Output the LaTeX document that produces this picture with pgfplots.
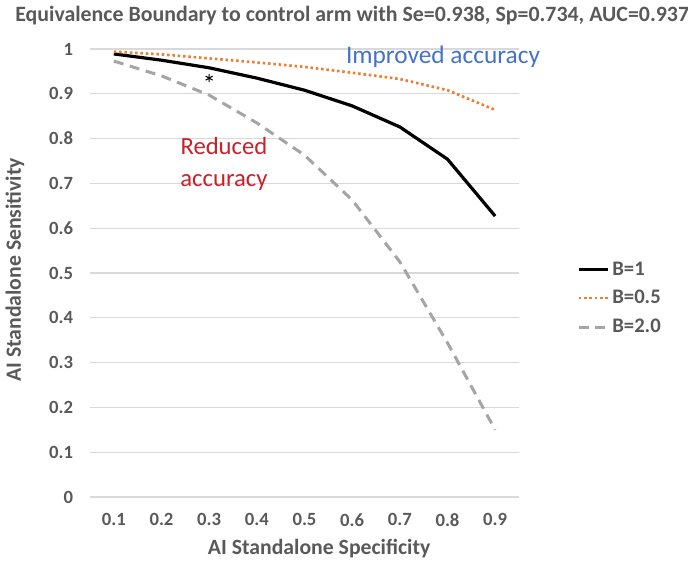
\documentclass[border=0pt]{standalone}
\usepackage{pgfplots}
\pgfplotsset{compat=1.18}
\usepackage{fontspec}
\setmainfont{Carlito}

\definecolor{txtgray}{HTML}{595959}
\definecolor{gridgray}{HTML}{D9D9D9}
\definecolor{xlorange}{HTML}{ED7D31}
\definecolor{xlgray}{HTML}{A5A5A5}
\definecolor{impblue}{HTML}{4472C4}
\definecolor{redtxt}{HTML}{C9202A}

\begin{document}
\begin{tikzpicture}
    % picture frame, 688x560 px at 0.75pt per px, origin at plot corner
    \path[use as bounding box] (-67.5pt,-47.25pt) rectangle (448.5pt,372.75pt);

    \begin{axis}[
            width=321.75pt,
            height=336pt,
            scale only axis,
            xmin=0.05, xmax=0.95,
            ymin=0, ymax=1,
            xtick={0.1,0.2,...,0.9},
            xticklabels={0.1,0.2,0.3,0.4,0.5,0.6,0.7,0.8,0.9},
            ytick={0,0.1,...,1},
            yticklabels={0,0.1,0.2,0.3,0.4,0.5,0.6,0.7,0.8,0.9,1},
            major tick length=0pt,
            axis line style={draw=none},
            ymajorgrids,
            grid style={gridgray, line width=0.9pt},
            tick label style={font=\fontsize{14}{16}\selectfont\bfseries, text=txtgray},
            /pgf/number format/assume math mode=true,
            yticklabel style={inner sep=0pt, xshift=-12.5pt},
            xticklabel style={inner sep=0pt, yshift=-12pt},
            clip=false,
            legend style={
                at={(rel axis cs:1.135,0.532)},
                anchor=north west,
                draw=none, fill=none,
                font=\fontsize{15.5}{18}\selectfont\bfseries,
                text=txtgray,
                row sep=6pt,
                inner sep=0pt
            },
            legend cell align=left,
            legend image code/.code={
                \draw[#1] (0pt,0pt) -- (22pt,0pt);
            }
        ]

        % B=1
        \addplot[black, line width=2.4pt, line join=round] coordinates {
            (0.1,0.989) (0.2,0.975) (0.3,0.958) (0.4,0.935) (0.5,0.908)
            (0.6,0.873) (0.7,0.826) (0.8,0.754) (0.9,0.627)
        };
        \addlegendentry{B=1}

        % B=0.5
        \addplot[xlorange, line width=2pt, dash pattern=on 1.9pt off 2.1pt] coordinates {
            (0.1,0.994) (0.2,0.988) (0.3,0.979) (0.4,0.970) (0.5,0.960)
            (0.6,0.947) (0.7,0.933) (0.8,0.908) (0.9,0.864)
        };
        \addlegendentry{B=0.5}

        % B=2.0
        \addplot[xlgray, line width=2.25pt, dash pattern=on 7.5pt off 5pt] coordinates {
            (0.1,0.973) (0.2,0.940) (0.3,0.897) (0.4,0.835) (0.5,0.763)
            (0.6,0.663) (0.7,0.525) (0.8,0.344) (0.9,0.150)
        };
        \addlegendentry{B=2.0}

        % control arm marker
        \addplot[only marks, mark=asterisk, mark size=3pt, black, line width=0.8pt,
            forget plot] coordinates {(0.3,0.935)};

        \node[text=impblue, font=\fontsize{19}{22}\selectfont]
            at (axis cs:0.7906,0.982) {Improved accuracy};
        \node[text=redtxt, font=\fontsize{18.5}{24}\selectfont, align=center]
            at (axis cs:0.331,0.743) {Reduced\\accuracy};

        \node[text=txtgray, font=\fontsize{16.4}{18}\selectfont\bfseries]
            at (rel axis cs:0.611,1.0737) {Equivalence Boundary to control arm with Se=0.938, Sp=0.734, AUC=0.937};
        \node[text=txtgray, font=\fontsize{16.3}{18}\selectfont\bfseries]
            at (rel axis cs:0.534,-0.116) {AI Standalone Specificity};
        \node[text=txtgray, font=\fontsize{16.3}{18}\selectfont\bfseries, rotate=90]
            at (rel axis cs:-0.175,0.507) {AI Standalone Sensitivity};
    \end{axis}
\end{tikzpicture}
\end{document}
